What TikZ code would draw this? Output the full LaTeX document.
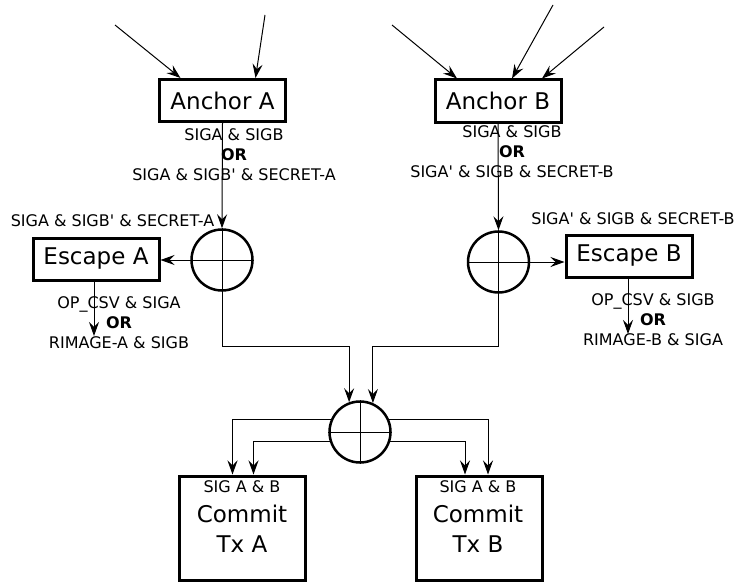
\documentclass[tikz,border=0pt]{standalone}
\usepackage{fontspec}
\setmainfont{DejaVu Sans}[Ligatures=TeXOff]
\usetikzlibrary{arrows.meta}

\begin{document}
\begin{tikzpicture}[x=1pt, y=-1pt, >={Stealth[length=14pt,width=10pt,inset=5pt]},
  box/.style={draw, line width=3pt, minimum width=126pt, minimum height=42pt, inner sep=0pt, font=\fontsize{23}{28}\selectfont},
  bigbox/.style={box, minimum height=104pt},
  junction/.style={draw, circle, line width=2.5pt, minimum size=61pt, inner sep=0pt},
  cond/.style={align=center, inner sep=0pt, font=\fontsize{16}{20}\selectfont},
  flow/.style={->, line width=1pt}]

\useasboundingbox (0,0) rectangle (738,583);

\node[box] (ancA) at (222.5,100.5) {Anchor A};
\node[box] (ancB) at (498,101) {Anchor B};
\node[junction] (circA) at (222,260) {};
\node[junction] (circB) at (498.5,262) {};
\node[junction] (merge) at (360,432) {};
\node[box] (escA) at (96,259) {Escape A};
\node[box] (escB) at (629,256) {Escape B};
\node[bigbox] (cmtA) at (242.5,528) {};
\node[bigbox] (cmtB) at (479,528) {};

\foreach \j in {circA, circB, merge}
  \draw[line width=0.9pt] (\j.north) -- (\j.south) (\j.west) -- (\j.east);

\node[align=center, inner sep=0pt, font=\fontsize{23}{30}\selectfont] (txtA) at (242,517)
  {{\fontsize{16}{20}\selectfont SIG A \& B}\\Commit\\Tx A};
\node[align=center, inner sep=0pt, font=\fontsize{23}{30}\selectfont] (txtB) at (478,517)
  {{\fontsize{16}{20}\selectfont SIG A \& B}\\Commit\\Tx B};

\node[cond] (condA) at (234,155) {SIGA \& SIGB\\\textbf{OR}\\SIGA \& SIGB' \& SECRET-A};
\node[cond] (condB) at (512,152) {SIGA \& SIGB\\\textbf{OR}\\SIGA' \& SIGB \& SECRET-B};
\node[cond] (escAin) at (112.5,221) {SIGA \& SIGB' \& SECRET-A};
\node[cond] (escBin) at (633,219) {SIGA' \& SIGB \& SECRET-B};
\node[cond] (escAout) at (119,323) {OP\_CSV \& SIGA\\\textbf{OR}\\RIMAGE-A \& SIGB};
\node[cond] (escBout) at (653,320) {OP\_CSV \& SIGB\\\textbf{OR}\\RIMAGE-B \& SIGA};

\coordinate (inA1) at (115,25);
\coordinate (inA2) at (265,15);
\coordinate (inB1) at (392,25);
\coordinate (inB2) at (553,5);
\coordinate (inB3) at (604,27);
\coordinate (outA) at (94,336);
\coordinate (outB) at (628,334);
\coordinate (kneeA) at (222,346);
\coordinate (kneeB) at (498.5,346);

\draw[flow] (inA1) -- ([xshift=-42pt]ancA.north);
\draw[flow] (inA2) -- ([xshift=33pt]ancA.north);
\draw[flow] (inB1) -- ([xshift=-41pt]ancB.north);
\draw[flow] (inB2) -- ([xshift=14pt]ancB.north);
\draw[flow] (inB3) -- ([xshift=44pt]ancB.north);

\draw[flow] (ancA.south) -- (circA.north);
\draw[flow] (ancB.south) -- (circB.north);
\draw[flow] (circA.west) -- (circA.west -| escA.east);
\draw[flow] (circB.east) -- (circB.east -| escB.west);
\draw[flow] (escA.south -| outA) -- (outA);
\draw[flow] (escB.south -| outB) -- (outB);

\draw[flow] (circA.south) -- (kneeA) -| (merge.110);
\draw[flow] (circB.south) -- (kneeB) -| (merge.66);

\draw[flow] (merge.156) -| ([xshift=-10pt]cmtA.north);
\draw[flow] (merge.197) -| ([xshift=11pt]cmtA.north);
\draw[flow] (merge.24) -| ([xshift=9pt]cmtB.north);
\draw[flow] (merge.-17) -| ([xshift=-14pt]cmtB.north);

\end{tikzpicture}
\end{document}
